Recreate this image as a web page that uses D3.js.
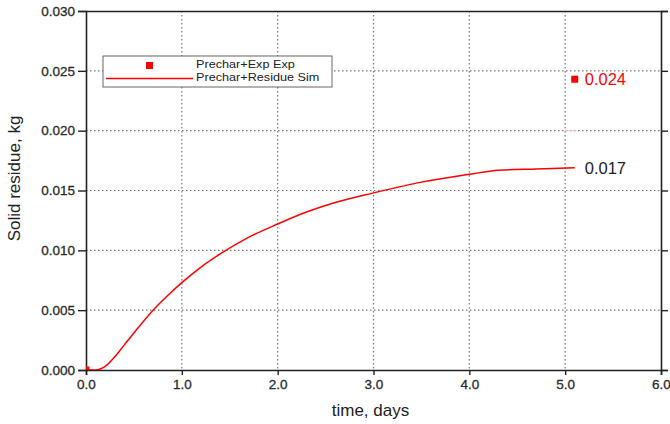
<!DOCTYPE html>
<html><head><meta charset="utf-8">
<script src="https://cdn.jsdelivr.net/npm/d3@7"></script>
<style>body{margin:0;background:#fff}svg{display:block;font-family:"Liberation Sans",Arial,sans-serif}</style>
</head><body><svg id="c" width="670" height="424"></svg>
<script>
const xTicks = [0,1,2,3,4,5,6];
const yTicks = [0,0.005,0.010,0.015,0.020,0.025,0.030];
const simT = [0,0.1,0.2,0.3,0.4,0.5,0.7,0.85,1.0,1.2,1.4,1.7,2.0,2.3,2.6,3.0,3.5,4.0,4.3,4.7,5.1];
const simV = [0,0,0.0003,0.0011,0.0021,0.0031,0.0050,0.0062,0.0073,0.0086,0.0097,0.0111,0.0122,0.0132,0.0140,0.0148,0.0157,0.01635,0.0167,0.0168,0.0169];
const expT = [0,5.1];
const expV = [0,0.0243];
const seriesNames = ["Prechar+Exp Exp","Prechar+Residue Sim"];
const annotations = [{t:5.1,v:0.0243,text:"0.024",color:"#ff0000"},{t:5.1,v:0.0169,text:"0.017",color:"#222"}];

const L=86,R=661,T=11,B=370;
const svg=d3.select("#c");
const x=d3.scaleLinear().domain([0,6]).range([L,R]);
const y=d3.scaleLinear().domain([0,0.03]).range([B,T]);

const g=svg.append("g");
g.selectAll(".vg").data(xTicks.slice(1,-1)).join("line")
 .attr("x1",d=>x(d)).attr("x2",d=>x(d)).attr("y1",T).attr("y2",B)
 .attr("stroke","#777").attr("stroke-dasharray","1.5,2.5").attr("stroke-width",1.2);
g.selectAll(".hg").data(yTicks.slice(1,-1)).join("line")
 .attr("y1",d=>y(d)).attr("y2",d=>y(d)).attr("x1",L).attr("x2",R)
 .attr("stroke","#777").attr("stroke-dasharray","1.5,2.5").attr("stroke-width",1.2);

svg.append("defs").append("clipPath").attr("id","clip").append("rect")
 .attr("x",L).attr("y",T).attr("width",R-L).attr("height",B-T);

const xAx=svg.append("g").attr("transform",`translate(0,${B})`)
 .call(d3.axisBottom(x).tickValues(xTicks).tickFormat(d3.format(".1f")).tickSize(5).tickPadding(4));
const yAx=svg.append("g").attr("transform",`translate(${L},0)`)
 .call(d3.axisLeft(y).tickValues(yTicks).tickFormat(d3.format(".3f")).tickSize(8).tickPadding(3));
const yR=svg.append("g").attr("transform",`translate(${R},0)`)
 .call(d3.axisRight(y).tickValues(yTicks).tickFormat("").tickSize(7));
const xT=svg.append("g").attr("transform",`translate(0,${T})`)
 .call(d3.axisTop(x).tickValues(xTicks).tickFormat("").tickSize(0));
[xAx,yAx,yR,xT].forEach(a=>{
  a.select(".domain").attr("stroke","#222").attr("stroke-width",1.6);
  a.selectAll(".tick line").attr("stroke","#222").attr("stroke-width",1.4);
  a.selectAll("text").attr("font-size",13.5).attr("fill","#2a2a2a").attr("font-family","Liberation Sans, Arial, sans-serif")
   .attr("stroke","#2a2a2a").attr("stroke-width",0.3);
});

const pts=simT.map((t,i)=>[t,simV[i]]);
svg.append("path").datum(pts).attr("clip-path","url(#clip)")
 .attr("fill","none").attr("stroke","#ff0000").attr("stroke-width",1.5)
 .attr("d",d3.line().x(d=>x(d[0])).y(d=>y(d[1])).curve(d3.curveMonotoneX));

svg.append("g").attr("clip-path","url(#clip)").selectAll("rect").data(expT.map((t,i)=>[t,expV[i]])).join("rect")
 .attr("x",d=>x(d[0])-3.5).attr("y",d=>y(d[1])-3.5).attr("width",7).attr("height",7).attr("fill","#ff0000");

svg.append("line").attr("x1",x(5.1)-10).attr("x2",x(5.1)+2).attr("y1",y(0.02)).attr("y2",y(0.02))
 .attr("stroke","#ffc0c0").attr("stroke-width",1);

svg.selectAll(".ann").data(annotations).join("text")
 .attr("x",d=>x(d.t)+10).attr("y",d=>y(d.v)+6).attr("fill",d=>d.color)
 .attr("font-size",16.5).text(d=>d.text);

const lg=svg.append("g");
lg.append("rect").attr("x",103).attr("y",56).attr("width",229).attr("height",31)
 .attr("fill","#fff").attr("stroke","#666").attr("stroke-width",1);
lg.append("rect").attr("x",146).attr("y",62).attr("width",7).attr("height",7).attr("fill","#ff0000");
lg.append("line").attr("x1",106).attr("x2",193).attr("y1",78.5).attr("y2",78.5).attr("stroke","#ff0000").attr("stroke-width",1.5);
lg.selectAll(".lt").data(seriesNames).join("text")
 .attr("x",196).attr("y",(d,i)=>68+i*12.8).attr("font-size",11.2).attr("fill","#222").text(d=>d)
 .each(function(){const w=this.getComputedTextLength(); d3.select(this).attr("textLength",w*1.13).attr("lengthAdjust","spacingAndGlyphs");});

svg.append("text").attr("x",(L+R)/2-3).attr("y",416).attr("text-anchor","middle")
 .attr("font-size",17).attr("fill","#222").text("time, days");
svg.append("text").attr("transform",`translate(20,${(T+B)/2-12}) rotate(-90)`).attr("text-anchor","middle")
 .attr("font-size",17).attr("fill","#222").text("Solid residue, kg");
</script></body></html>
